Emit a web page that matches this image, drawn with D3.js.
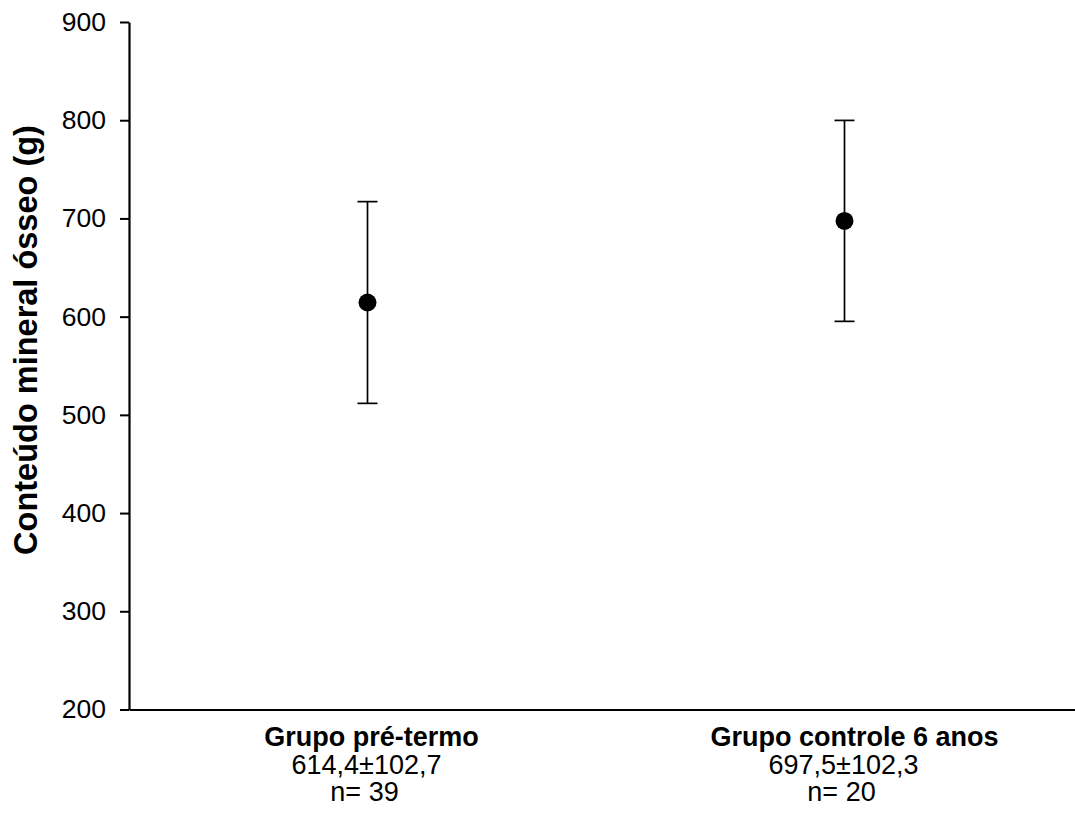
<!DOCTYPE html>
<html>
<head>
<meta charset="utf-8">
<script src="https://cdn.jsdelivr.net/npm/d3@7"></script>
<style>
  body { margin: 0; background: #fff; }
  svg { display: block; font-family: Arial, "Liberation Sans", sans-serif; }
</style>
</head>
<body>
<div id="chart"></div>
<script>
// data
const groups = ["Grupo pré-termo", "Grupo controle 6 anos"];
const means = [614.4, 697.5];
const sds = [102.7, 102.3];
const ns = [39, 20];
const yTicks = [200, 300, 400, 500, 600, 700, 800, 900];

const width = 1075;
const height = 819;
const marginLeft = 129;
const marginTop = 22;
const axisBottom = 709.5;

const svg = d3.select("#chart")
    .append("svg")
    .attr("width", width)
    .attr("height", height);

const x = d3.scaleBand()
    .domain(groups)
    .range([marginLeft, 1083])
    .padding(0);

const y = d3.scaleLinear()
    .domain([200, 900])
    .range([axisBottom, marginTop]);

// y axis
const gy = svg.append("g")
    .attr("transform", `translate(${marginLeft},0)`)
    .call(d3.axisLeft(y).tickValues(yTicks).tickSizeInner(9).tickSizeOuter(0).tickPadding(14).tickFormat(d3.format("d")));
gy.select(".domain").attr("stroke", "#000").attr("stroke-width", 2.2);
gy.selectAll(".tick line").attr("stroke", "#000").attr("stroke-width", 2);
gy.selectAll(".tick text")
    .attr("font-size", "26.5px")
    .attr("font-family", "Arial, 'Liberation Sans', sans-serif")
    .attr("fill", "#000");

// x axis line (no ticks)
const gx = svg.append("g")
    .attr("transform", `translate(0,${axisBottom})`)
    .call(d3.axisBottom(x).tickSize(0).tickFormat(""));
gx.select(".domain").attr("stroke", "#000").attr("stroke-width", 2.2);

// error bars
const cap = 10;
const bars = svg.append("g")
    .selectAll("g")
    .data(groups)
    .join("g")
    .attr("transform", d => `translate(${x(d) + x.bandwidth() / 2},0)`);

bars.append("line")
    .attr("y1", (d, i) => y(means[i] - sds[i]))
    .attr("y2", (d, i) => y(means[i] + sds[i]))
    .attr("stroke", "#000").attr("stroke-width", 1.7);
bars.append("line")
    .attr("x1", -cap).attr("x2", cap)
    .attr("y1", (d, i) => y(means[i] + sds[i]))
    .attr("y2", (d, i) => y(means[i] + sds[i]))
    .attr("stroke", "#000").attr("stroke-width", 1.7);
bars.append("line")
    .attr("x1", -cap).attr("x2", cap)
    .attr("y1", (d, i) => y(means[i] - sds[i]))
    .attr("y2", (d, i) => y(means[i] - sds[i]))
    .attr("stroke", "#000").attr("stroke-width", 1.7);
bars.append("circle")
    .attr("cy", (d, i) => y(means[i]))
    .attr("r", 9)
    .attr("fill", "#000");

// category labels with stats
const fmt = v => v.toFixed(1).replace(".", ",");
const labels = svg.append("g")
    .selectAll("g")
    .data(groups)
    .join("g")
    .attr("transform", d => `translate(${x(d) + x.bandwidth() / 2},0)`)
    .attr("text-anchor", "middle")
    .attr("fill", "#000");
labels.append("text")
    .attr("x", (d, i) => i === 0 ? 4 : 10)
    .attr("y", 746)
    .attr("font-size", "27px")
    .attr("font-weight", "bold")
    .text(d => d);
labels.append("text")
    .attr("x", -1)
    .attr("y", 774)
    .attr("font-size", "27px")
    .text((d, i) => `${fmt(means[i])}±${fmt(sds[i])}`);
labels.append("text")
    .attr("x", -3)
    .attr("y", 801)
    .attr("font-size", "27px")
    .text((d, i) => `n= ${ns[i]}`);

// y axis title
svg.append("text")
    .attr("transform", "translate(37,340) rotate(-90)")
    .attr("text-anchor", "middle")
    .attr("font-size", "32.5px")
    .attr("font-weight", "bold")
    .attr("fill", "#000")
    .text("Conteúdo mineral ósseo (g)");
</script>
</body>
</html>
